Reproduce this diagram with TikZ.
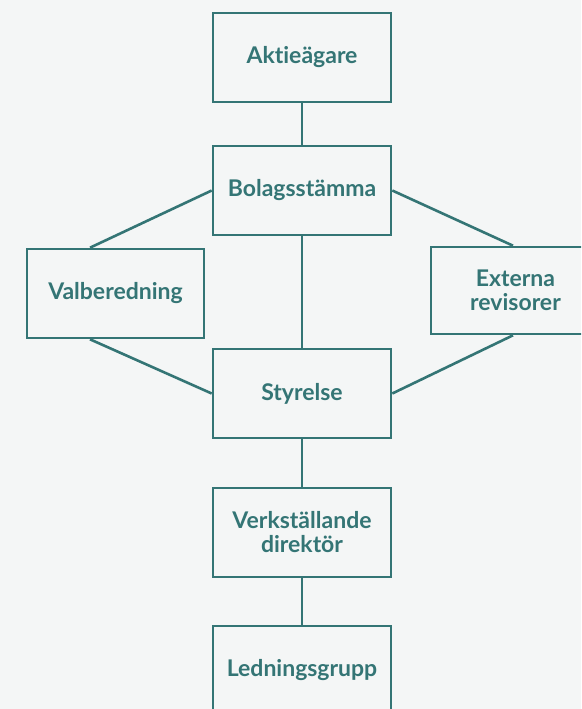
\documentclass[tikz,border=0pt]{standalone}
\usepackage{fontspec}
\setmainfont[Ligatures=NoCommon]{Lato}
\usetikzlibrary{calc}
\definecolor{teal1}{HTML}{347575}
\definecolor{bgc}{HTML}{F4F6F6}
\begin{document}
\begin{tikzpicture}[x=1pt,y=1pt,
  box/.style={draw=teal1,line width=2.6pt,minimum width=178pt,minimum height=89pt,
    inner sep=0pt,align=center,text=teal1,font=\fontsize{23}{24}\selectfont\bfseries},
  conn/.style={draw=teal1,line width=2.6pt}]
\useasboundingbox (0,0) rectangle (581,-709);
\clip (0,0) rectangle (581,-709);
\fill[bgc] (0,0) rectangle (581,-709);
\node[box] (akt) at (302,-57.5) {Aktieägare};
\node[box] (bol) at (302,-190.5) {Bolagsstämma};
\node[box,minimum width=177pt] (val) at (115.5,-293.5) {Valberedning};
\node[box,minimum height=87pt] (ext) at (520,-290.5) {\hspace*{-9pt}Externa\\\hspace*{-9pt}revisorer};
\node[box] (sty) at (302,-393.5) {Styrelse};
\node[box] (vd) at (302,-532.5) {Verkställande\\direktör};
\node[box] (led) at (302,-670.5) {Ledningsgrupp};
\draw[conn] (akt.south) -- (bol.north);
\draw[conn] (bol.west) -- ([xshift=-25.5pt]val.north);
\draw[conn] (bol.east) -- ([xshift=-7pt]ext.north);
\draw[conn] (bol.south) -- (sty.north);
\draw[conn] ([xshift=-25.5pt]val.south) -- (sty.west);
\draw[conn] ([xshift=-7pt]ext.south) -- (sty.east);
\draw[conn] (sty.south) -- (vd.north);
\draw[conn] (vd.south) -- (led.north);
\end{tikzpicture}
\end{document}
